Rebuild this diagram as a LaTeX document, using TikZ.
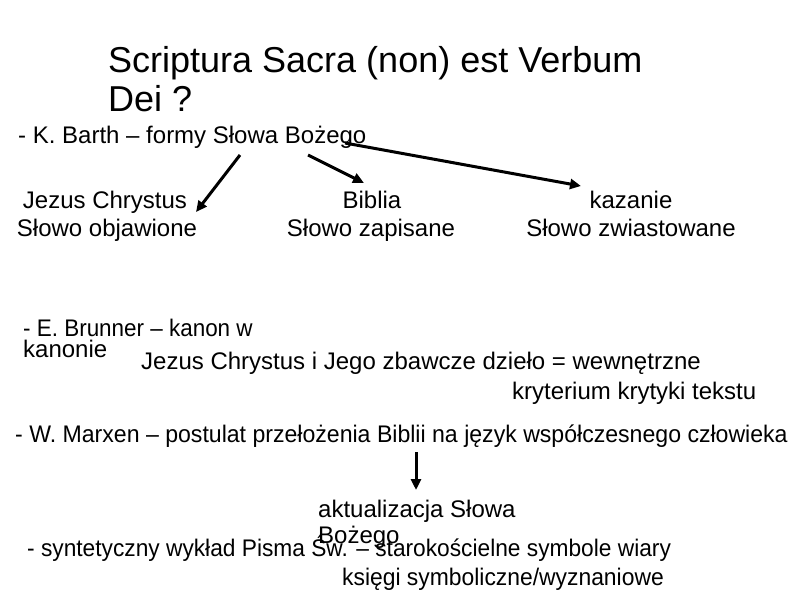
\documentclass[tikz,border=0pt]{standalone}
\usepackage{fontspec}
\setmainfont{Liberation Sans}
\usetikzlibrary{arrows.meta}
\begin{document}
\begin{tikzpicture}[x=1pt,y=-1pt,
  txt/.style={anchor=base west,inner sep=0pt,font=\fontsize{24}{28}\selectfont},
  ctxt/.style={anchor=base,inner sep=0pt,font=\fontsize{24}{28}\selectfont},
  ttl/.style={anchor=base west,inner sep=0pt,font=\fontsize{36}{40}\selectfont},
  arr/.style={line width=3pt,-{Triangle[length=11pt,width=10pt]}}]
\useasboundingbox[fill=white] (0,0) rectangle (800,600);
\node[ttl] (t1) at (108,72) {Scriptura Sacra (non) est Verbum};
\node[ttl] (t2) at (108,111) {Dei ?};
\node[txt] (barth) at (18,143) {- K. Barth – formy Słowa Bożego};
\node[ctxt] (jc) at (105,208) {Jezus Chrystus};
\node[ctxt] (jc2) at (107,236) {Słowo objawione};
\node[ctxt] (bib) at (372,208) {Biblia};
\node[ctxt] (bib2) at (371,236) {Słowo zapisane};
\node[ctxt] (kaz) at (631,208) {kazanie};
\node[ctxt] (kaz2) at (631,236) {Słowo zwiastowane};
\coordinate (s1) at (240,155);
\coordinate (e1) at (196,212);
\coordinate (s2) at (308,155);
\coordinate (e2) at (364,183);
\coordinate (s3) at (345,143);
\coordinate (e3) at (581,186);
\draw[arr] (s1) -- (e1);
\draw[arr] (s2) -- (e2);
\draw[arr] (s3) -- (e3);
\node[txt,xscale=0.935] (br) at (23,336) {- E. Brunner – kanon w};
\node[txt] (br2) at (23,357) {kanonie};
\node[txt] (jcz) at (141,369) {Jezus Chrystus i Jego zbawcze dzieło = wewnętrzne};
\node[txt] (kr) at (512,399) {kryterium krytyki tekstu};
\node[txt,xscale=0.962] (mx) at (15,442) {- W. Marxen – postulat przełożenia Biblii na język współczesnego człowieka};
\coordinate (s4) at (416,452);
\coordinate (e4) at (416,490);
\draw[arr] (s4) -- (e4);
\node[txt] (ak) at (318,517) {aktualizacja Słowa};
\node[txt] (ak2) at (318,543) {Bożego};
\node[txt,xscale=0.947] (syn) at (27,556) {- syntetyczny wykład Pisma Św. – starokościelne symbole wiary};
\node[txt,xscale=0.953] (ks) at (342,585) {księgi symboliczne/wyznaniowe};
\end{tikzpicture}
\end{document}
